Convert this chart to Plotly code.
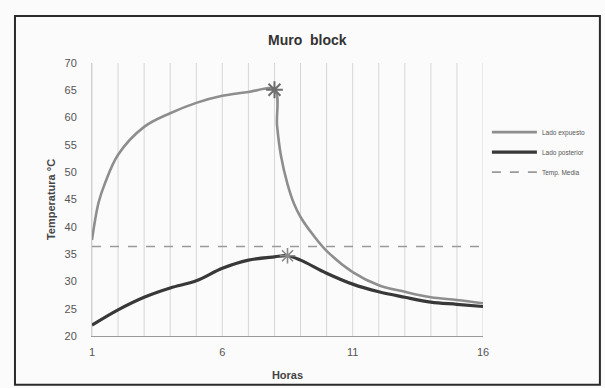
import plotly.graph_objects as go

# ---- data ----
hours_exp = [1, 1.25, 1.5, 2, 3, 4, 5, 6, 7, 8, 8.1, 8.25, 8.5, 8.75, 9, 9.5, 10, 11, 12, 13, 14, 15, 16]
temp_exp = [37.6, 44.4, 48.0, 53.2, 58.3, 60.8, 62.7, 64.0, 64.7, 65.1, 58.5, 53.0, 47.8, 44.2, 41.8, 38.4, 35.6, 31.7, 29.3, 28.1, 27.1, 26.6, 26.0]

hours_post = [1, 2, 3, 4, 5, 6, 7, 8, 8.5, 9, 10, 11, 12, 13, 14, 15, 16]
temp_post = [22.0, 24.8, 27.1, 28.8, 30.1, 32.4, 33.9, 34.5, 34.7, 33.9, 31.5, 29.5, 28.1, 27.1, 26.2, 25.8, 25.4]

hours_media = [1, 16]
temp_media = [36.4, 36.4]

peak_exp_x = [8]
peak_exp_y = [65.1]
peak_post_x = [8.5]
peak_post_y = [34.7]

x_ticks = [1, 6, 11, 16]
y_ticks = [20, 25, 30, 35, 40, 45, 50, 55, 60, 65, 70]

names = ["Lado expuesto", "Lado posterior", "Temp. Media"]

FONT = "Liberation Sans"

fig = go.Figure()
fig.add_trace(go.Scatter(x=hours_post, y=temp_post, mode="lines", name=names[1],
                         legendgroup="b", legendrank=2,
                         line=dict(color="#383838", width=3.2, shape="spline", smoothing=1.0)))
fig.add_trace(go.Scatter(x=hours_exp, y=temp_exp, mode="lines", name=names[0],
                         legendgroup="a", legendrank=1,
                         line=dict(color="#8e8e8e", width=2.6, shape="spline", smoothing=1.0)))
fig.add_trace(go.Scatter(x=hours_media, y=temp_media, mode="lines", name=names[2],
                         legendgroup="c", legendrank=3,
                         line=dict(color="#9a9a9a", width=1.6, dash="dash")))
fig.add_trace(go.Scatter(x=peak_exp_x, y=peak_exp_y, mode="markers", showlegend=False,
                         marker=dict(symbol="asterisk-open", size=14, color="#6e6e6e",
                                     line=dict(color="#6e6e6e", width=2))))
fig.add_trace(go.Scatter(x=peak_post_x, y=peak_post_y, mode="markers", showlegend=False,
                         marker=dict(symbol="asterisk-open", size=13, color="#8a8a8a",
                                     line=dict(color="#8a8a8a", width=1.6))))

fig.update_layout(
    width=605, height=388,
    margin=dict(l=92, r=122, t=63, b=52, autoexpand=False),
    paper_bgcolor="#fbfbfb", plot_bgcolor="#fbfbfb",
    font=dict(family=FONT, color="#555555"),
    title=dict(text="<b>Muro  block</b>", x=0.508, xanchor="center", y=0.897, yanchor="middle",
               font=dict(size=14, color="#333333", family=FONT)),
    xaxis=dict(range=[1, 16], tickvals=x_ticks, ticktext=[str(v) for v in x_ticks], automargin=False,
               showgrid=False, showline=True, linecolor="#9a9a9a", linewidth=1.2, zeroline=False,
               ticks="", ticklabelstandoff=6, tickfont=dict(size=11, color="#555555"),
               title=dict(text="<b>Horas</b>", font=dict(size=11, color="#444444"), standoff=14)),
    yaxis=dict(range=[20, 70], tickvals=y_ticks, showgrid=False, zeroline=False, automargin=False,
               showline=True, linecolor="#d0d0d0", linewidth=1,
               ticks="", ticklabelstandoff=12, tickfont=dict(size=11, color="#555555"),
               title=dict(text="<b>Temperatura °C</b>", font=dict(size=11, color="#444444"), standoff=6)),
    legend=dict(x=1.01, y=0.80, xanchor="left", yanchor="top", bgcolor="rgba(0,0,0,0)",
                font=dict(size=6.5, color="#555555", family=FONT), tracegroupgap=1, itemwidth=45),
    shapes=[dict(type="rect", xref="paper", yref="paper", x0=-0.197, x1=1.299, y0=-0.179, y1=1.172,
                 line=dict(color="#2a2a2a", width=2), fillcolor="rgba(0,0,0,0)", layer="below")],
)

# vertical gridlines at every hour
for h in range(1, 17):
    fig.add_vline(x=h, line=dict(color="#d6d6d6", width=1), layer="below")

fig.write_html("out.html")
